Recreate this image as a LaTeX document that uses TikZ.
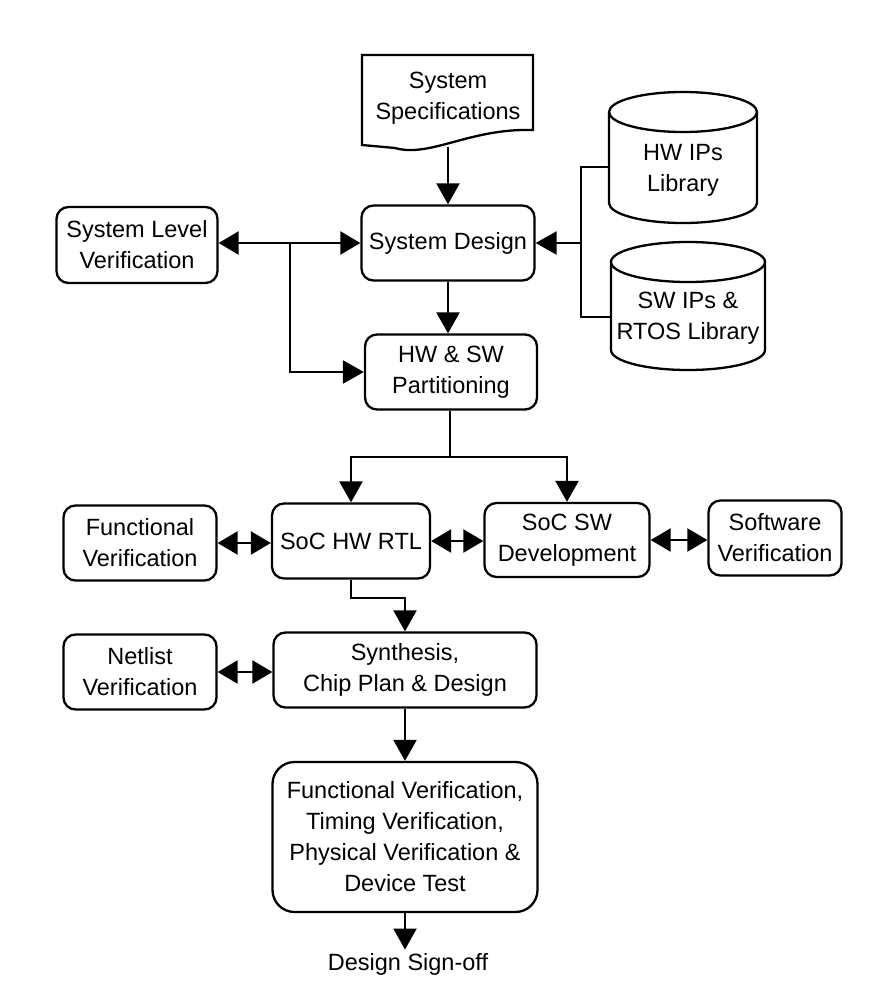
\documentclass[tikz,border=0pt]{standalone}
\usepackage{fontspec}
\setmainfont{Liberation Sans}
\usetikzlibrary{arrows.meta,positioning}
\tikzset{
  box/.style={draw, line width=2.3pt, rounded corners=12pt, align=center, inner sep=2pt,
    font=\fontsize{23.5}{31}\selectfont},
  plain/.style={align=center, font=\fontsize{23.5}{31}\selectfont},
  ln/.style={line width=2.3pt},
  arr/.style={line width=2.3pt, -{Triangle[length=21pt,width=23pt]}},
  dbl/.style={line width=2.3pt, {Triangle[length=20pt,width=23pt]}-{Triangle[length=20pt,width=23pt]}},
}
\begin{document}
\begin{tikzpicture}[x=1pt,y=-1pt]
\useasboundingbox (0,0) rectangle (871,1001);
\fill[white] (0,0) rectangle (871,1001);

% System specifications (document shape)
\draw[ln, line join=miter] (362,145) -- (362,55) -- (533,55) -- (533,130)
  .. controls (470,128) and (430,158) .. (395,148) -- (362,145) -- cycle;
\node[plain] (spec) at (448,98) {System\\Specifications};
\coordinate (specbot) at (448,147);

% main boxes
\node[box, minimum width=173pt, minimum height=75pt] (design) at (448,243) {System Design};
\node[box, minimum width=161pt, minimum height=76pt] (slv) at (137,245) {System Level\\Verification};
\node[box, minimum width=172pt, minimum height=75pt] (part) at (451,372) {HW \& SW\\Partitioning};
\node[box, minimum width=153pt, minimum height=75pt] (fv) at (140,543) {Functional\\Verification};
\node[box, minimum width=158pt, minimum height=75pt] (hwrtl) at (351,541) {SoC HW RTL};
\node[box, minimum width=165pt, minimum height=74pt] (swdev) at (567,540) {SoC SW\\Development};
\node[box, minimum width=133pt, minimum height=75pt] (swver) at (775,538) {Software\\Verification};
\node[box, minimum width=153pt, minimum height=75pt] (nv) at (140,672) {Netlist\\Verification};
\node[box, minimum width=263pt, minimum height=75pt] (synth) at (405,670) {Synthesis,\\Chip Plan \& Design};
\node[box, minimum width=265pt, minimum height=150pt, rounded corners=22pt] (final) at (405,837)
  {Functional Verification,\\Timing Verification,\\Physical Verification \&\\Device Test};
\node[plain] (signoff) at (408,964) {Design Sign-off};

% cylinders
\draw[ln] (609,112) -- (609,203) arc[start angle=180, end angle=360, x radius=74pt, y radius=20pt]
  -- (757,112);
\draw[ln] (683,112) ellipse[x radius=74pt, y radius=20pt];
\node[plain] (hwip) at (683,170) {HW IPs\\Library};
\draw[ln] (611,262) -- (611,350) arc[start angle=180, end angle=360, x radius=77pt, y radius=20pt]
  -- (765,262);
\draw[ln] (688,262) ellipse[x radius=77pt, y radius=20pt];
\node[plain] (swip) at (688,318) {SW IPs \&\\RTOS Library};

\coordinate (hwl) at (609,167);
\coordinate (swl) at (611,317);
\coordinate (busTop) at (581,167);
\coordinate (busBot) at (581,317);
\coordinate (busMid) at (581,243);

% connectors
\draw[arr] (specbot) -- (design.north);
\draw[dbl] (slv.east |- design.west) -- (design.west);
\coordinate (branch) at (290,243);
\draw[arr] (branch) |- (part.west);
\draw[arr] (design.south) -- (design.south |- part.north);
\draw[ln] (hwl) -- (busTop) -- (busBot) -- (swl);
\draw[arr] (busMid) -- (design.east);

\coordinate (split) at (450,457);
\draw[ln] (part.south -| split) -- (split);
\draw[arr] (split) -| (hwrtl.north);
\draw[arr] (split) -| (swdev.north);

\draw[dbl] (fv.east) -- (fv.east -| hwrtl.west);
\draw[dbl] (hwrtl.east) -- (hwrtl.east -| swdev.west);
\draw[dbl] (swdev.east) -- (swdev.east -| swver.west);

\coordinate (jog) at (351,598);
\draw[arr] (hwrtl.south) -- (jog) -| (synth.north);
\draw[dbl] (nv.east) -- (nv.east -| synth.west);
\draw[arr] (synth.south) -- (final.north);
\draw[arr] (final.south) -- (final.south |- signoff.north);
\end{tikzpicture}
\end{document}
